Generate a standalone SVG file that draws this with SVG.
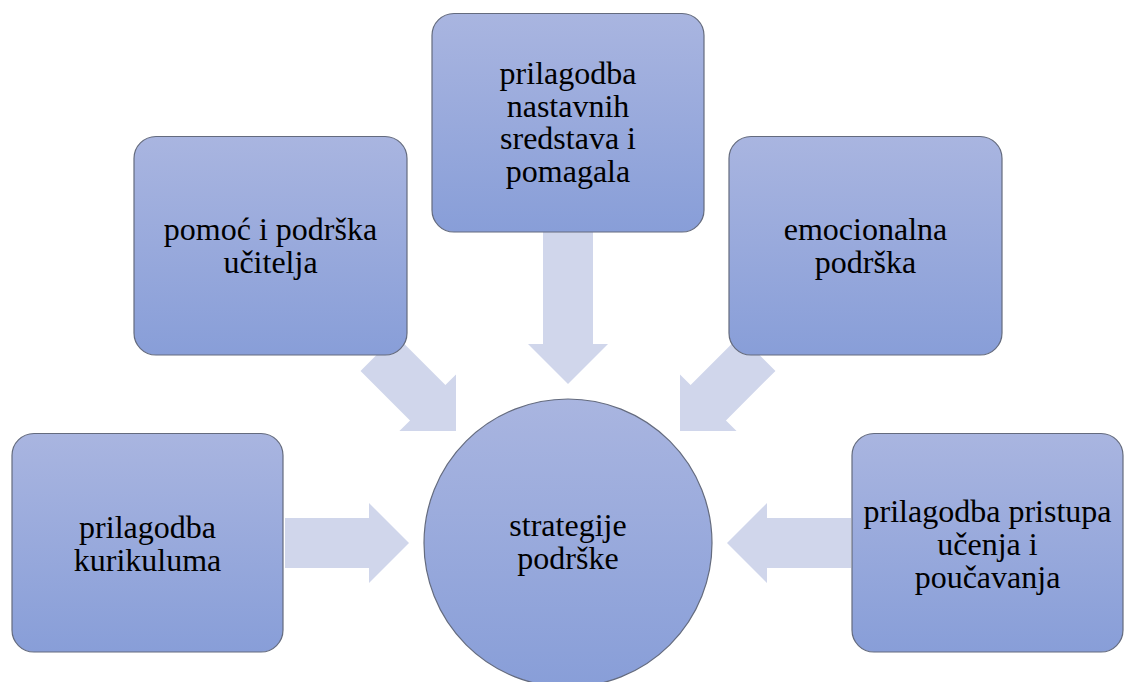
<svg xmlns="http://www.w3.org/2000/svg" width="1124" height="682" viewBox="0 0 1124 682">
<style>
.box{fill:url(#g);stroke:#646b7e;stroke-width:1.2}
.arr{fill:#d0d6eb}
.t{font-family:"Liberation Serif","Times New Roman",serif;font-size:32px;fill:#000;text-anchor:middle}
</style>
<defs>
<linearGradient id="g" x1="0" y1="0" x2="0" y2="1">
<stop offset="0" stop-color="#a9b5e0"/>
<stop offset="1" stop-color="#889ed8"/>
</linearGradient>
<linearGradient id="gc" gradientUnits="userSpaceOnUse" x1="0" y1="399" x2="0" y2="687">
<stop offset="0" stop-color="#a9b5e0"/>
<stop offset="1" stop-color="#889ed8"/>
</linearGradient>
</defs>
<rect width="1124" height="682" fill="#fff"/>
<g id="connectors">
<polygon class="arr" points="-124,-25 -40,-25 -40,-40 0,0 -40,40 -40,25 -124,25" transform="translate(409,543)"/>
<polygon class="arr" points="-124,-25 -40,-25 -40,-40 0,0 -40,40 -40,25 -124,25" transform="translate(727,543) rotate(180)"/>
<polygon class="arr" points="-160,-25 -40,-25 -40,-40 0,0 -40,40 -40,25 -160,25" transform="translate(568,384) rotate(90)"/>
<polygon class="arr" points="-110,-25 -40,-25 -40,-40 0,0 -40,40 -40,25 -110,25" transform="translate(456,431) rotate(45)"/>
<polygon class="arr" points="-110,-25 -40,-25 -40,-40 0,0 -40,40 -40,25 -110,25" transform="translate(680,431) rotate(135)"/>
</g>
<g id="n1">
<rect class="box" x="12" y="433.5" width="271" height="218.5" rx="22"/>
<text class="t" x="147.5" y="538">prilagodba</text>
<text class="t" x="147.5" y="571">kurikuluma</text>
</g>
<g id="n2">
<rect class="box" x="134" y="136.5" width="273" height="218.5" rx="22"/>
<text class="t" x="270.5" y="239.5">pomoć i podrška</text>
<text class="t" x="270.5" y="272.5">učitelja</text>
</g>
<g id="n3">
<rect class="box" x="432" y="13.5" width="272" height="218.5" rx="22"/>
<text class="t" x="568" y="84">prilagodba</text>
<text class="t" x="568" y="116.5">nastavnih</text>
<text class="t" x="568" y="149">sredstava i</text>
<text class="t" x="568" y="181.5">pomagala</text>
</g>
<g id="n4">
<rect class="box" x="729" y="136.5" width="273" height="218.5" rx="22"/>
<text class="t" x="865.5" y="239.5">emocionalna</text>
<text class="t" x="865.5" y="272.5">podrška</text>
</g>
<g id="n5">
<rect class="box" x="852" y="433.5" width="271" height="218.5" rx="22"/>
<text class="t" x="987.5" y="521.5">prilagodba pristupa</text>
<text class="t" x="987.5" y="554.5">učenja i</text>
<text class="t" x="987.5" y="587.5">poučavanja</text>
</g>
<g id="center">
<circle cx="568" cy="543" r="144" fill="url(#gc)" stroke="#646b7e" stroke-width="1.2"/>
<text class="t" x="568" y="536">strategije</text>
<text class="t" x="568" y="569">podrške</text>
</g>
</svg>
